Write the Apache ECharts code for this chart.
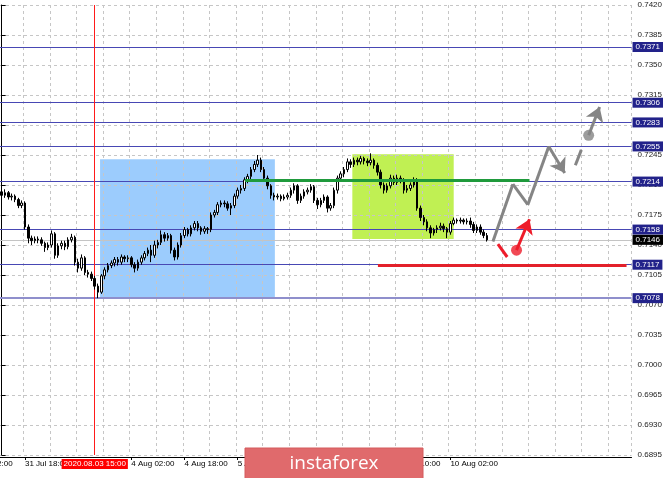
<!DOCTYPE html>
<html><head><meta charset="utf-8">
<script src="https://cdn.jsdelivr.net/npm/echarts@6/dist/echarts.min.js"></script>
<style>html,body{margin:0;padding:0;background:#fff}#c{width:665px;height:478px}</style>
</head><body><div id="c"></div>
<script>
// ---- data ----
const startHourUTC = Date.UTC(2020, 6, 31, 11); // first bar: 2020.07.31 11:00 (H1)
const barCount = 190;
const opens = [0.7202,0.7198,0.7201,0.7196,0.7197,0.7193,0.7186,0.7189,0.7161,0.7148,
0.7145,0.7147,0.7146,0.7142,0.7137,0.7140,0.7153,0.7128,0.7139,0.7142,
0.7138,0.7146,0.7149,0.7120,0.7113,0.7125,0.7108,0.7106,0.7101,0.7092,
0.7085,0.7104,0.7111,0.7116,0.7119,0.7123,0.7120,0.7126,0.7124,0.7125,
0.7117,0.7113,0.7120,0.7125,0.7130,0.7134,0.7128,0.7140,0.7143,0.7152,
0.7148,0.7151,0.7134,0.7126,0.7140,0.7151,0.7158,0.7153,0.7160,0.7165,
0.7160,0.7156,0.7159,0.7158,0.7175,0.7178,0.7187,0.7189,0.7188,0.7183,
0.7186,0.7197,0.7204,0.7206,0.7216,0.7220,0.7228,0.7234,0.7239,0.7228,
0.7218,0.7209,0.7198,0.7196,0.7197,0.7194,0.7196,0.7198,0.7204,0.7209,
0.7192,0.7197,0.7202,0.7204,0.7208,0.7192,0.7187,0.7192,0.7196,0.7183,
0.7186,0.7204,0.7218,0.7223,0.7228,0.7237,0.7234,0.7239,0.7237,0.7241,
0.7238,0.7236,0.7239,0.7233,0.7225,0.7210,0.7204,0.7209,0.7218,0.7213,
0.7218,0.7216,0.7204,0.7206,0.7210,0.7216,0.7183,0.7172,0.7167,0.7160,
0.7154,0.7158,0.7160,0.7162,0.7159,0.7155,0.7165,0.7169,0.7168,0.7169,
0.7167,0.7168,0.7164,0.7157,0.7161,0.7155,0.7151];
const closes = [0.7198,0.7201,0.7196,0.7197,0.7193,0.7186,0.7189,0.7161,0.7148,0.7145,
0.7147,0.7146,0.7142,0.7137,0.7140,0.7153,0.7128,0.7139,0.7142,0.7138,
0.7146,0.7149,0.7120,0.7113,0.7125,0.7108,0.7106,0.7101,0.7092,0.7085,
0.7104,0.7111,0.7116,0.7119,0.7123,0.7120,0.7126,0.7124,0.7125,0.7117,
0.7113,0.7120,0.7125,0.7130,0.7134,0.7128,0.7140,0.7143,0.7152,0.7148,
0.7151,0.7134,0.7126,0.7140,0.7151,0.7158,0.7153,0.7160,0.7165,0.7160,
0.7156,0.7159,0.7158,0.7175,0.7178,0.7187,0.7189,0.7188,0.7183,0.7186,
0.7197,0.7204,0.7206,0.7216,0.7220,0.7228,0.7234,0.7239,0.7228,0.7218,
0.7209,0.7198,0.7196,0.7197,0.7194,0.7196,0.7198,0.7204,0.7209,0.7192,
0.7197,0.7202,0.7204,0.7208,0.7192,0.7187,0.7192,0.7196,0.7183,0.7186,
0.7204,0.7218,0.7223,0.7228,0.7237,0.7234,0.7239,0.7237,0.7241,0.7238,
0.7236,0.7239,0.7233,0.7225,0.7210,0.7204,0.7209,0.7218,0.7213,0.7218,
0.7216,0.7204,0.7206,0.7210,0.7216,0.7183,0.7172,0.7167,0.7160,0.7154,
0.7158,0.7160,0.7162,0.7159,0.7155,0.7165,0.7169,0.7168,0.7169,0.7167,
0.7168,0.7164,0.7157,0.7161,0.7155,0.7151,0.7146];
const lows = [0.7195,0.7195,0.7193,0.7192,0.7190,0.7183,0.7183,0.7158,0.7142,0.7140,
0.7142,0.7142,0.7139,0.7132,0.7134,0.7137,0.7124,0.7125,0.7135,0.7134,
0.7135,0.7143,0.7116,0.7108,0.7110,0.7105,0.7102,0.7098,0.7088,0.7078,
0.7083,0.7100,0.7108,0.7113,0.7115,0.7116,0.7117,0.7120,0.7120,0.7114,
0.7108,0.7110,0.7117,0.7122,0.7127,0.7120,0.7125,0.7136,0.7140,0.7144,
0.7145,0.7130,0.7122,0.7123,0.7137,0.7148,0.7150,0.7150,0.7157,0.7156,
0.7152,0.7153,0.7153,0.7155,0.7172,0.7175,0.7184,0.7184,0.7180,0.7175,
0.7183,0.7194,0.7200,0.7203,0.7212,0.7217,0.7225,0.7231,0.7225,0.7215,
0.7205,0.7194,0.7192,0.7193,0.7191,0.7192,0.7193,0.7195,0.7200,0.7188,
0.7189,0.7194,0.7199,0.7201,0.7189,0.7182,0.7184,0.7189,0.7178,0.7180,
0.7183,0.7200,0.7215,0.7219,0.7225,0.7230,0.7231,0.7233,0.7234,0.7234,
0.7232,0.7233,0.7229,0.7221,0.7206,0.7200,0.7201,0.7206,0.7210,0.7210,
0.7212,0.7200,0.7201,0.7203,0.7207,0.7180,0.7168,0.7163,0.7156,0.7148,
0.7151,0.7154,0.7157,0.7155,0.7148,0.7152,0.7163,0.7165,0.7165,0.7164,
0.7164,0.7160,0.7154,0.7154,0.7152,0.7148,0.7144];
const highs = [0.7207,0.7205,0.7203,0.7200,0.7199,0.7195,0.7192,0.7191,0.7164,0.7151,
0.7150,0.7150,0.7149,0.7144,0.7143,0.7157,0.7155,0.7142,0.7145,0.7145,
0.7149,0.7153,0.7151,0.7124,0.7129,0.7127,0.7111,0.7109,0.7104,0.7095,
0.7106,0.7114,0.7119,0.7122,0.7126,0.7126,0.7129,0.7128,0.7128,0.7127,
0.7120,0.7123,0.7128,0.7133,0.7137,0.7140,0.7145,0.7146,0.7157,0.7155,
0.7154,0.7153,0.7137,0.7143,0.7154,0.7161,0.7160,0.7163,0.7168,0.7168,
0.7162,0.7162,0.7161,0.7178,0.7181,0.7190,0.7192,0.7192,0.7191,0.7189,
0.7200,0.7207,0.7210,0.7219,0.7223,0.7231,0.7238,0.7245,0.7242,0.7231,
0.7221,0.7211,0.7201,0.7200,0.7199,0.7199,0.7201,0.7207,0.7212,0.7211,
0.7200,0.7205,0.7207,0.7211,0.7210,0.7195,0.7195,0.7199,0.7198,0.7189,
0.7207,0.7221,0.7226,0.7231,0.7241,0.7240,0.7242,0.7242,0.7244,0.7243,
0.7241,0.7247,0.7241,0.7236,0.7228,0.7213,0.7212,0.7222,0.7221,0.7222,
0.7221,0.7218,0.7210,0.7213,0.7219,0.7218,0.7186,0.7175,0.7170,0.7163,
0.7160,0.7163,0.7166,0.7165,0.7161,0.7168,0.7172,0.7171,0.7172,0.7171,
0.7171,0.7172,0.7167,0.7164,0.7164,0.7158,0.7154];

const levelLines = [0.7371, 0.7306, 0.7283, 0.7255, 0.7214, 0.7158, 0.7117];
const strongLevel = 0.7078;
const currentPrice = 0.7146;
const cursorBarIndex = 28;          // 2020.08.03 15:00
const xLabelBars = [7, 39, 55, 71, 87, 103, 119, 135];
const yMin = 0.6895, yMax = 0.7420, yStep = 0.0035;

// zones [barFrom, priceTop, barTo, priceBottom]
const blueZone = [29.6, 0.7240, 82.2, 0.7078];
const greenZone = [105.5, 0.7246, 136.0, 0.7147];
// horizontal segments [barFrom, barTo, price]
const greenSegment = [73.2, 158.8, 0.7216];
const redSegment = [113.2, 188.0, 0.7116];
// forecast paths (bar position, price)
const grayPathBars = [147.8, 153.8, 158.3, 164.6, 169.4];
const grayPathPrices = [0.7144, 0.7211, 0.7187, 0.7255, 0.7224];
const grayDashBars = [172.6, 174.4], grayDashPrices = [0.7233, 0.7251];
const grayArrowBars = [176.6, 179.9], grayArrowPrices = [0.7268, 0.7301];
const redDashBars = [149.3, 152.1], redDashPrices = [0.7141, 0.7126];
const redArrowBars = [154.9, 158.8], redArrowPrices = [0.7134, 0.7170];

// ---- build ----
const MON = ['Jan','Feb','Mar','Apr','May','Jun','Jul','Aug','Sep','Oct','Nov','Dec'];
const pad = n => (n < 10 ? '0' : '') + n;
const cats = [];
for (let t = startHourUTC; cats.length < barCount; t += 3600000) {
  const d = new Date(t); const wd = d.getUTCDay();
  if (wd === 0 || wd === 6) continue;
  cats.push(d.getUTCFullYear() + '.' + pad(d.getUTCMonth() + 1) + '.' + pad(d.getUTCDate()) + ' ' + pad(d.getUTCHours()) + ':00');
}
const shortLabel = s => {
  const m = s.match(/(\d+)\.(\d+)\.(\d+) (\d+:\d+)/);
  return (+m[3]) + ' ' + MON[+m[2] - 1] + ' ' + m[4];
};
const candles = opens.map((o, i) => [o, closes[i], lows[i], highs[i]]);
const zip = (a, b) => a.map((v, i) => [v, b[i]]);
const grayPath = zip(grayPathBars, grayPathPrices);

const FONT = 'Liberation Sans';
const levelColor = '#4848b4';
const boxColor = '#22228a';
const GRAY = '#858585', RED = '#ee1c2a';

const levelMarks = levelLines.map(v => ({
  yAxis: v,
  lineStyle: { color: levelColor, width: 1, type: 'solid' },
  label: { backgroundColor: boxColor }
}));
levelMarks.push({ yAxis: strongLevel, lineStyle: { color: '#8f8fcc', width: 2, type: 'solid' }, label: { backgroundColor: boxColor } });
levelMarks.push({ yAxis: currentPrice, lineStyle: { color: '#c4c4c4', width: 1, type: 'solid' }, label: { backgroundColor: '#000' } });
levelMarks.push({
  xAxis: cats[cursorBarIndex],
  lineStyle: { color: '#ff1a1a', width: 1, type: 'solid' },
  label: { position: 'start', distance: 4, formatter: () => cats[cursorBarIndex], backgroundColor: '#ff0000', color: '#fff', padding: [1, 2, 1, 2] }
});

const chart = echarts.init(document.getElementById('c'), null, { renderer: 'canvas' });
chart.setOption({
  animation: false,
  backgroundColor: '#fff',
  grid: { left: 0, right: 33, top: 5, bottom: 23, containLabel: false },
  xAxis: [{
    type: 'category', data: cats, boundaryGap: true, offset: 2, z: 3,
    axisLine: { show: true, lineStyle: { color: '#000', width: 1 } },
    axisTick: { show: true, alignWithLabel: true, length: 3, lineStyle: { color: '#000' }, interval: i => xLabelBars.includes(i) },
    axisLabel: { interval: i => xLabelBars.includes(i), formatter: v => shortLabel(v), align: 'left', margin: 3, fontSize: 8, fontFamily: FONT, color: '#000' },
    splitLine: { show: true, interval: i => i >= 7 && (i - 7) % 8 === 0, lineStyle: { color: '#c6c6c6', type: [3, 3], width: 1 } }
  }, {
    type: 'value', min: -0.5, max: barCount - 0.5, show: false, splitLine: { show: false }
  }],
  yAxis: {
    type: 'value', position: 'right', min: yMin, max: yMax, interval: yStep, scale: true, z: 3,
    axisLine: { show: true, lineStyle: { color: '#000', width: 1 } },
    axisTick: { show: true, length: 4, lineStyle: { color: '#000' } },
    axisLabel: { formatter: v => v.toFixed(4), fontSize: 8, fontFamily: FONT, color: '#222', margin: 6 },
    splitLine: { show: true, lineStyle: { color: '#c6c6c6', type: [3, 3], width: 1 } }
  },
  series: [{
    name: 'zones', type: 'scatter', xAxisIndex: 1, yAxisIndex: 0, z: 1,
    data: [[grayArrowBars[0], grayArrowPrices[0]], [redArrowBars[0], redArrowPrices[0]]],
    symbolSize: 0, silent: true,
    markArea: {
      silent: true,
      data: [
        [{ xAxis: blueZone[0], yAxis: blueZone[1], itemStyle: { color: 'rgba(128,190,252,0.78)' } }, { xAxis: blueZone[2], yAxis: blueZone[3] }],
        [{ xAxis: greenZone[0], yAxis: greenZone[1], itemStyle: { color: 'rgba(176,236,40,0.8)' } }, { xAxis: greenZone[2], yAxis: greenZone[3] }]
      ]
    }
  }, {
    name: 'AUDUSD', type: 'candlestick', xAxisIndex: 0, yAxisIndex: 0, z: 5,
    data: candles, barWidth: 2,
    itemStyle: { color: '#fff', color0: '#000', borderColor: '#000', borderColor0: '#000', borderWidth: 1 },
    markLine: {
      silent: true, symbol: ['none', 'none'], animation: false, precision: 4,
      label: { show: true, position: 'end', distance: 1, formatter: p => Number(p.value).toFixed(4), color: '#fff', fontSize: 8, fontFamily: FONT, padding: [1, 3, 1, 3] },
      data: levelMarks
    }
  }, {
    name: 'segments', type: 'lines', coordinateSystem: 'cartesian2d', xAxisIndex: 1, yAxisIndex: 0, z: 6,
    symbol: ['none', 'none'], silent: true,
    lineStyle: { opacity: 1, width: 3 },
    data: [
      { coords: [[greenSegment[0], greenSegment[2]], [greenSegment[1], greenSegment[2]]], lineStyle: { color: '#1f9a3c', width: 3, opacity: 1 } },
      { coords: [[redSegment[0], redSegment[2]], [redSegment[1], redSegment[2]]], lineStyle: { color: '#e3202a', width: 3, opacity: 1 } },
      { coords: zip(grayDashBars, grayDashPrices), lineStyle: { color: GRAY, width: 3, opacity: 1 } },
      { coords: zip(redDashBars, redDashPrices), lineStyle: { color: RED, width: 3, opacity: 1 } },
      { coords: grayPath.slice(0, 2), lineStyle: { color: GRAY, width: 3, opacity: 1 } },
      { coords: grayPath.slice(1, 3), lineStyle: { color: GRAY, width: 3, opacity: 1 } },
      { coords: grayPath.slice(2, 4), lineStyle: { color: GRAY, width: 3, opacity: 1 } }
    ]
  }, {
    name: 'arrows', type: 'lines', coordinateSystem: 'cartesian2d', xAxisIndex: 1, yAxisIndex: 0, z: 6,
    symbol: ['none', 'arrow'], symbolSize: 14, silent: true,
    lineStyle: { width: 3, opacity: 1 },
    data: [
      { coords: grayPath.slice(3, 5), lineStyle: { color: GRAY, width: 3, opacity: 1 }, itemStyle: { color: GRAY } },
      { coords: zip(grayArrowBars, grayArrowPrices), lineStyle: { color: GRAY, width: 3, opacity: 1 }, itemStyle: { color: GRAY } },
      { coords: zip(redArrowBars, redArrowPrices), lineStyle: { color: RED, width: 3, opacity: 1 }, itemStyle: { color: RED } }
    ]
  }, {
    name: 'dots', type: 'scatter', xAxisIndex: 1, yAxisIndex: 0, z: 7, symbolSize: 11, silent: true,
    data: [
      { value: [grayArrowBars[0], grayArrowPrices[0]], itemStyle: { color: GRAY } },
      { value: [redArrowBars[0], redArrowPrices[0]], itemStyle: { color: RED } }
    ]
  }],
  graphic: [{
    type: 'text', left: -31, top: 460, z: 50,
    style: { text: '31 Jul 02:00', fontSize: 8, fontFamily: FONT, fill: '#000' }
  }, {
    type: 'rect', shape: { x: 245, y: 448, width: 178, height: 32 }, z: 100,
    style: { fill: '#e06a6c', stroke: '#d45a5c', lineWidth: 1 }
  }, {
    type: 'text', x: 334, y: 464, z: 101,
    style: { text: 'instaforex', fontSize: 19, fontFamily: 'Open Sans', fill: '#fff', align: 'center', verticalAlign: 'middle' }
  }]
});
</script></body></html>
